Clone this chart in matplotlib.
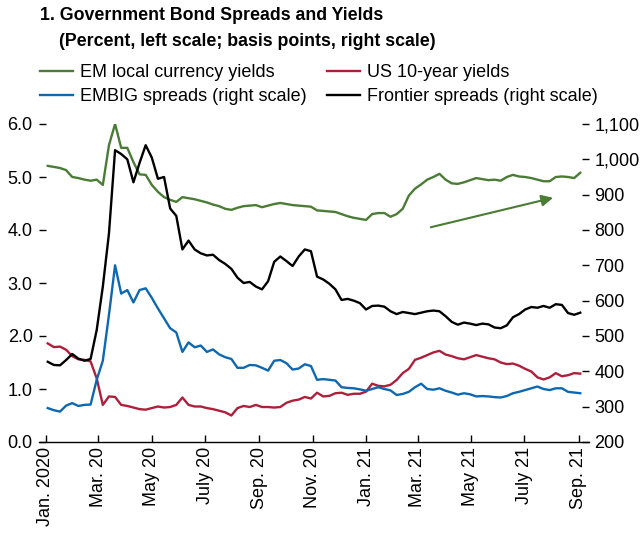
import pandas as pd
import matplotlib.pyplot as plt
import matplotlib.ticker as mticker

# weekly observations, Jan. 3 2020 to Sep. 3 2021
dates = pd.date_range('2020-01-03', periods=88, freq='7D')

# EM local currency yields (percent, left scale)
em_local = [5.21, 5.19, 5.17, 5.13, 5.00, 4.98, 4.95, 4.93, 4.95, 4.85,
            5.60, 6.00, 5.55, 5.55, 5.28, 5.05, 5.04, 4.85, 4.72, 4.62,
            4.57, 4.53, 4.62, 4.60, 4.58, 4.55, 4.52, 4.48, 4.45, 4.40,
            4.38, 4.42, 4.45, 4.46, 4.47, 4.43, 4.46, 4.49, 4.51, 4.49,
            4.47, 4.46, 4.45, 4.44, 4.37, 4.36, 4.35, 4.34, 4.30, 4.26,
            4.23, 4.21, 4.19, 4.30, 4.32, 4.32, 4.25, 4.30, 4.40, 4.65,
            4.78, 4.86, 4.95, 5.00, 5.06, 4.95, 4.88, 4.87, 4.90, 4.94,
            4.98, 4.96, 4.94, 4.95, 4.93, 5.00, 5.04, 5.01, 5.00, 4.98,
            4.95, 4.92, 4.92, 5.00, 5.01, 5.00, 4.98, 5.08]

# US 10-year yields (percent, left scale)
us10y = [1.86, 1.79, 1.80, 1.74, 1.62, 1.56, 1.55, 1.52, 1.20, 0.70,
         0.86, 0.85, 0.70, 0.68, 0.65, 0.62, 0.61, 0.64, 0.67, 0.65,
         0.66, 0.70, 0.84, 0.70, 0.67, 0.67, 0.64, 0.62, 0.59, 0.56,
         0.50, 0.64, 0.68, 0.66, 0.70, 0.66, 0.66, 0.65, 0.66, 0.74,
         0.78, 0.80, 0.85, 0.82, 0.93, 0.86, 0.87, 0.92, 0.93, 0.89,
         0.91, 0.91, 0.95, 1.10, 1.06, 1.05, 1.08, 1.17, 1.30, 1.38,
         1.55, 1.59, 1.64, 1.69, 1.72, 1.65, 1.62, 1.58, 1.56, 1.60,
         1.64, 1.61, 1.58, 1.56, 1.50, 1.47, 1.48, 1.44, 1.38, 1.33,
         1.22, 1.18, 1.22, 1.30, 1.24, 1.26, 1.30, 1.29]

# EMBIG spreads (basis points, right scale)
embig = [296, 290, 286, 303, 310, 302, 305, 306, 376, 430,
         560, 700, 620, 630, 595, 630, 635, 608, 578, 550,
         522, 510, 455, 482, 468, 473, 455, 462, 448, 440,
         435, 410, 410, 418, 417, 410, 402, 430, 432, 423,
         405, 408, 420, 415, 376, 378, 376, 374, 355, 353,
         352, 349, 345, 350, 355, 350, 346, 333, 336, 342,
         355, 365, 350, 348, 352, 345, 340, 334, 338, 335,
         329, 330, 329, 327, 326, 330, 338, 342, 347, 352,
         357, 350, 347, 352, 352, 342, 340, 338]

# Frontier spreads (basis points, right scale)
frontier = [427, 418, 417, 432, 449, 436, 430, 435, 517, 640,
            790, 1026, 1015, 1000, 935, 990, 1040, 1005, 945, 950,
            861, 840, 745, 770, 745, 734, 728, 730, 715, 704,
            690, 665, 650, 653, 640, 632, 655, 710, 725, 712,
            698, 725, 745, 740, 668, 660, 648, 632, 602, 605,
            600, 593, 575, 585, 586, 583, 570, 562, 568, 565,
            562, 566, 570, 572, 570, 556, 540, 532, 538, 535,
            531, 535, 533, 524, 522, 530, 553, 562, 575, 582,
            580, 585, 580, 590, 588, 565, 560, 566]

tick_dates = pd.date_range('2020-01-01', periods=11, freq='2MS')
tick_labels = ['Jan. 2020', 'Mar. 20', 'May 20', 'July 20', 'Sep. 20', 'Nov. 20',
               'Jan. 21', 'Mar. 21', 'May 21', 'July 21', 'Sep. 21']

green = '#4a7c35'
red = '#ad1f3a'
blue = '#0e68b0'

plt.rcParams['font.family'] = ['Liberation Sans', 'DejaVu Sans']
plt.rcParams['font.size'] = 13

fig = plt.figure(figsize=(6.44, 5.33), dpi=100)
ax = fig.add_axes([39 / 644, 91 / 533, 550 / 644, 318 / 533])
ax2 = ax.twinx()

l_em, = ax.plot(dates, em_local, color=green, lw=1.7)
l_us, = ax.plot(dates, us10y, color=red, lw=1.7)
l_embig, = ax2.plot(dates, embig, color=blue, lw=1.7)
l_front, = ax2.plot(dates, frontier, color='black', lw=1.7)

# arrow showing the upward trend in EM local yields
ax.annotate('', xy=(pd.Timestamp('2021-08-06'), 4.62),
            xytext=(pd.Timestamp('2021-03-13'), 4.04),
            arrowprops=dict(arrowstyle='-|>', color=green, lw=1.5, mutation_scale=17))

ax.set_xlim(pd.Timestamp('2019-12-24'), pd.Timestamp('2021-09-13'))
ax.set_ylim(0, 6)
ax2.set_ylim(200, 1100)

ax.set_yticks([0, 1, 2, 3, 4, 5, 6])
ax.yaxis.set_major_formatter(mticker.FormatStrFormatter('%.1f'))
ax2.set_yticks(range(200, 1101, 100))
ax2.yaxis.set_major_formatter(mticker.StrMethodFormatter('{x:,.0f}'))
ax.set_xticks(tick_dates)
ax.set_xticklabels(tick_labels, rotation=90)

for a in (ax, ax2):
    for s in ('top', 'left', 'right'):
        a.spines[s].set_visible(False)
ax2.spines['bottom'].set_visible(False)
ax.spines['bottom'].set_linewidth(1.0)
ax.tick_params(axis='y', direction='in', length=5, width=1, pad=4.5)
ax.tick_params(axis='x', direction='in', length=5, width=1, pad=3.5)
ax2.tick_params(axis='y', direction='in', length=5, width=1, pad=4)

fig.text(40 / 644, 1 - 16 / 533, '1. Government Bond Spreads and Yields',
         fontsize=12.8, fontweight='bold', va='center')
fig.text(59 / 644, 1 - 41 / 533, '(Percent, left scale; basis points, right scale)',
         fontsize=12.8, fontweight='bold', va='center')

leg_kw = dict(loc='upper left', frameon=False, fontsize=13, handlelength=1.85,
              handletextpad=0.35, labelspacing=0.38, borderaxespad=0, borderpad=0)
fig.legend([l_em, l_embig], ['EM local currency yields', 'EMBIG spreads (right scale)'],
           bbox_to_anchor=(40 / 644, 1 - 64 / 533), **leg_kw)
fig.legend([l_us, l_front], ['US 10-year yields', 'Frontier spreads (right scale)'],
           bbox_to_anchor=(327 / 644, 1 - 64 / 533), **leg_kw)

fig.savefig('out.png', dpi=100)
